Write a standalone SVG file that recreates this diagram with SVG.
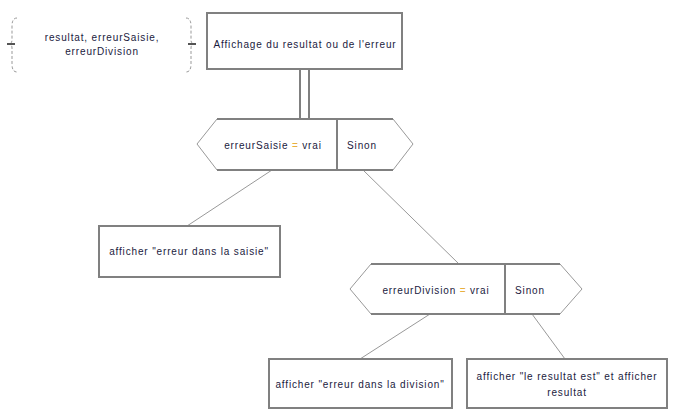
<svg xmlns="http://www.w3.org/2000/svg" width="682" height="418" viewBox="0 0 682 418">
<style>
.box{fill:#fff;stroke:#808080;stroke-width:2}
.hexfill{fill:#fff;stroke:none}
.hexh{fill:none;stroke:#808080;stroke-width:2}
.hexs{fill:none;stroke:#999;stroke-width:1}
.div{stroke:#808080;stroke-width:2}
.con{fill:none;stroke:#999;stroke-width:1}
.brace{fill:none;stroke:#999;stroke-width:1;stroke-dasharray:3 2}
.t{font-family:"Liberation Sans",Arial,sans-serif;font-size:10px;letter-spacing:0.85px;fill:#1a1a40;text-anchor:middle;dominant-baseline:central}
.eq{fill:#e8b040}
</style>
<rect width="682" height="418" fill="#fff"/>
<g id="connectors">
<line class="div" x1="300" y1="69" x2="300" y2="119"/>
<line class="div" x1="309" y1="69" x2="309" y2="119"/>
<line class="con" x1="272" y1="170" x2="187" y2="226"/>
<line class="con" x1="363" y1="170" x2="459" y2="264"/>
<line class="con" x1="430" y1="314" x2="360" y2="359"/>
<line class="con" x1="532" y1="314" x2="565" y2="359"/>
</g>
<g id="variables">
<path class="brace" d="M17 18 Q12 18 12 26 L12 40 Q12 44 8 44 Q12 44 12 48 L12 64 Q12 72 17 72"/>
<path class="brace" d="M186 18 Q191 18 191 26 L191 40 Q191 44 195 44 Q191 44 191 48 L191 64 Q191 72 186 72"/>
<rect x="7" y="43" width="8" height="2" fill="#555"/>
<rect x="188" y="43" width="8" height="2" fill="#555"/>
<text class="t" x="102" y="37">resultat, erreurSaisie,</text>
<text class="t" x="102" y="51">erreurDivision</text>
</g>
<g id="affichage">
<rect class="box" x="207" y="13" width="195" height="56"/>
<text class="t" x="305" y="44">Affichage du resultat ou de l'erreur</text>
</g>
<g id="cond1">
<polygon class="hexfill" points="217,119 393,119 413,144 393,170 217,170 197,144"/>
<path class="hexh" d="M217 119 H393 M217 170 H393"/>
<path class="hexs" d="M217 119 L197 144 L217 170 M393 119 L413 144 L393 170"/>
<line class="div" x1="337" y1="119" x2="337" y2="170"/>
<text class="t" x="273" y="145">erreurSaisie <tspan class="eq">=</tspan> vrai</text>
<text class="t" x="362" y="145">Sinon</text>
</g>
<g id="erreurSaisie">
<rect class="box" x="99" y="226" width="181" height="51"/>
<text class="t" x="189" y="251">afficher "erreur dans la saisie"</text>
</g>
<g id="cond2">
<polygon class="hexfill" points="371,264 560,264 582,289 560,314 371,314 350,289"/>
<path class="hexh" d="M371 264 H560 M371 314 H560"/>
<path class="hexs" d="M371 264 L350 289 L371 314 M560 264 L582 289 L560 314"/>
<line class="div" x1="505" y1="264" x2="505" y2="314"/>
<text class="t" x="436" y="290">erreurDivision <tspan class="eq">=</tspan> vrai</text>
<text class="t" x="530" y="290">Sinon</text>
</g>
<g id="erreurDivision">
<rect class="box" x="269" y="359" width="183" height="49"/>
<text class="t" x="360" y="384">afficher "erreur dans la division"</text>
</g>
<g id="resultat">
<rect class="box" x="467" y="359" width="200" height="49"/>
<text class="t" x="567" y="376">afficher "le resultat est" et afficher</text>
<text class="t" x="567" y="392">resultat</text>
</g>
</svg>
